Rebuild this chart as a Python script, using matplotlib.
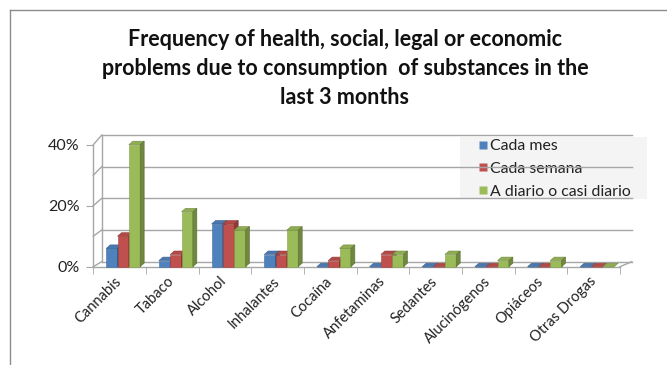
import matplotlib
matplotlib.use("Agg")
import matplotlib.pyplot as plt
import matplotlib.colors as mcolors
from matplotlib.lines import Line2D
from matplotlib.patches import Polygon, Rectangle
import numpy as np

plt.rcParams["font.family"] = ["Lato", "DejaVu Sans"]

substances = ["Cannabis", "Tabaco", "Alcohol", "Inhalantes", "Cocaína",
              "Anfetaminas", "Sedantes", "Alucinógenos", "Opiáceos",
              "Otras Drogas"]
cada_mes = [6, 2, 14, 4, 0, 0, 0, 0, 0, 0]
cada_semana = [10, 4, 14, 4, 2, 4, 0, 0, 0, 0]
a_diario = [40, 18, 12, 12, 6, 4, 4, 2, 2, 0]

series = [
    ("Cada mes", cada_mes, "#4F81BD"),
    ("Cada semana", cada_semana, "#C0504D"),
    ("A diario o casi diario", a_diario, "#9BBB59"),
]

W, H = 667, 365
fig = plt.figure(figsize=(W / 100, H / 100), dpi=100)

# front plane of the 3d box: x 0..10 categories, y 0..40 percent
x0_px, x1_px = 93.3, 620.0
y0_px, y40_px = 266.7, 144.7
ax = fig.add_axes([x0_px / W, 1 - y0_px / H,
                   (x1_px - x0_px) / W, (y0_px - y40_px) / H])
ax.set_xlim(0, 10)
ax.set_ylim(0, 40)
ax.patch.set_visible(False)
px_x = (x1_px - x0_px) / 10
px_y = (y0_px - y40_px) / 40

grid_col = "#A6A6A6"
# back wall / side wall offsets
back_x0 = 8.4 / px_x
back_x1 = 10 + 11.7 / px_x


def back_y(v):
    return v * 1.038 + 5.0 / px_y


for v in [0, 10, 20, 30, 40]:
    ax.plot([back_x0, back_x1], [back_y(v), back_y(v)], color=grid_col,
            lw=1, zorder=2, clip_on=False)
    ax.plot([0, back_x0], [v, back_y(v)], color=grid_col, lw=1, zorder=2,
            clip_on=False)
ax.plot([back_x0, back_x0], [back_y(0), back_y(40)], color=grid_col, lw=1,
        zorder=2, clip_on=False)
ax.plot([10, back_x1], [0, back_y(0)], color=grid_col, lw=1, zorder=2,
        clip_on=False)


def shade(color, f):
    r, g, b = mcolors.to_rgb(color)
    return (r * f, g * f, b * f)


bar_w = 0.215
start = 0.245
side_dx = 4.0 / px_x
top_dy = 3.5 / px_y
idx = np.arange(len(substances))

for k, (name, vals, col) in enumerate(series):
    xs = idx + start + bar_w * k
    ax.bar(xs, vals, width=bar_w, align="edge", color=col,
           edgecolor=shade(col, 0.85), linewidth=0.4, zorder=4 + k,
           clip_on=False)
    for x, v in zip(xs, vals):
        top = Polygon([(x, v), (x + bar_w, v), (x + bar_w + side_dx, v + top_dy),
                       (x + side_dx, v + top_dy)], closed=True,
                      facecolor=shade(col, 0.92), edgecolor=shade(col, 0.75),
                      linewidth=0.4, zorder=4 + k, clip_on=False)
        ax.add_patch(top)
        if v > 0:
            side = Polygon([(x + bar_w, 0), (x + bar_w + side_dx, top_dy),
                            (x + bar_w + side_dx, v + top_dy), (x + bar_w, v)],
                           closed=True, facecolor=shade(col, 0.72),
                           edgecolor=shade(col, 0.6), linewidth=0.4,
                           zorder=4 + k, clip_on=False)
            ax.add_patch(side)

for s in ["top", "right"]:
    ax.spines[s].set_visible(False)
for s in ["left", "bottom"]:
    ax.spines[s].set_color(grid_col)
    ax.spines[s].set_linewidth(1)
    ax.spines[s].set_zorder(2)

ax.set_yticks([0, 20, 40])
ax.set_yticklabels(["0%", "20%", "40%"])
ax.tick_params(axis="y", length=5, color=grid_col, labelsize=11.5,
               labelcolor="#222222", pad=5)

ax.set_xticks(idx + 0.5)
ax.set_xticklabels(substances, rotation=45, ha="right", va="center",
                   rotation_mode="anchor")
ax.set_xticks(np.arange(11), minor=True)
ax.tick_params(axis="x", which="major", length=0, labelsize=10.5,
               labelcolor="#222222", pad=9)
ax.tick_params(axis="x", which="minor", length=5, color=grid_col)

# legend panel sits behind the gridlines
fig.add_artist(Rectangle((460 / W, 1 - 199 / H), 187 / W, 62 / H,
                         transform=fig.transFigure, facecolor="#F4F4F4",
                         edgecolor="none", zorder=-1))
handles = [Line2D([], [], ls="none", marker="s", markersize=5.5,
                  markerfacecolor=c, markeredgecolor="none", label=n)
           for n, _, c in series]
leg = ax.legend(handles=handles, loc="upper left",
                bbox_to_anchor=(479 / W, 1 - 139 / H),
                bbox_transform=fig.transFigure, frameon=False,
                fontsize=11.4, handlelength=0.5, handletextpad=0.22,
                labelspacing=0.55, borderpad=0, borderaxespad=0)
leg.set_zorder(1.5)
for t in leg.get_texts():
    t.set_color("#222222")

fig.text(345 / W, 1 - 68.5 / H,
         "Frequency of health, social, legal or economic\n"
         "problems due to consumption  of substances in the\n"
         "last 3 months",
         ha="center", va="center", ma="center", fontsize=15.5,
         fontweight="bold", linespacing=1.5, color="#111111")

# outer chart frame (top and left edges)
frame_col = "#8C8C8C"
fig.add_artist(Line2D([10 / W, 1], [1 - 10 / H, 1 - 10 / H],
                      color=frame_col, lw=1, transform=fig.transFigure))
fig.add_artist(Line2D([10 / W, 10 / W], [1 - 10 / H, 0],
                      color=frame_col, lw=1, transform=fig.transFigure))

fig.savefig("out.png", dpi=100)
